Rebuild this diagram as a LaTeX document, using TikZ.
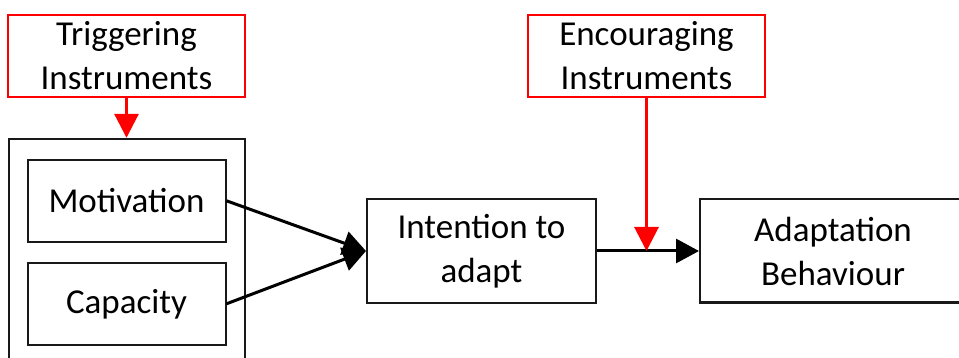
\documentclass[tikz,border=0pt]{standalone}
\usepackage{fontspec}
\setmainfont{Carlito}
\usetikzlibrary{positioning, arrows.meta}
\tikzset{
	x=1pt, y=1pt, % Un pixel del dibujo es un punto
	caja/.style={draw=black!90, line width=2pt, align=center, inner sep=0pt}, % Cajas negras
	instr/.style={draw=red, line width=1.6pt, align=center, inner sep=0pt,
		minimum width=237pt, minimum height=82pt}, % Cajas de instrumentos
	flecha/.style={-{Triangle[length=23pt, width=24pt]}, line width=3pt}, % Flechas negras
	roja/.style={-{Triangle[length=24pt, width=24pt]}, line width=3pt, red} % Flechas rojas
}

\begin{document}
\begin{tikzpicture}[font=\fontsize{35}{44}\selectfont]
			\useasboundingbox (0,0) rectangle (959,-358);
			\node[instr] (trig) at (126.5,-56) {Triggering\\Instruments};
			\node[caja, minimum width=236pt, minimum height=240pt, below=40pt of trig] (grp) {};
			\node[caja, minimum width=198pt, minimum height=82pt, below=21pt of grp.north] (mot) {Motivation};
			\node[caja, minimum width=198pt, minimum height=82pt, below=19pt of mot] (cap) {Capacity};
			\node[caja, minimum width=229pt, minimum height=104pt] (int) at (481.5,-251) {Intention to\\adapt};
			\node[caja, minimum width=266pt, minimum height=103pt, right=102pt of int] (adp) {Adaptation\\Behaviour};
			\node[instr] (enc) at (646.5,-56) {Encouraging\\Instruments};
			\coordinate (hit) at (enc.south |- int.east);
			\draw[flecha] (mot.east) -- (int.west);
			\draw[flecha] (cap.east) -- (int.west);
			\draw[flecha] (int.east) -- (adp.west);
			\draw[roja] (trig.south) -- (grp.north);
			\draw[roja] (enc.south) -- (hit);
\end{tikzpicture}
\end{document}
